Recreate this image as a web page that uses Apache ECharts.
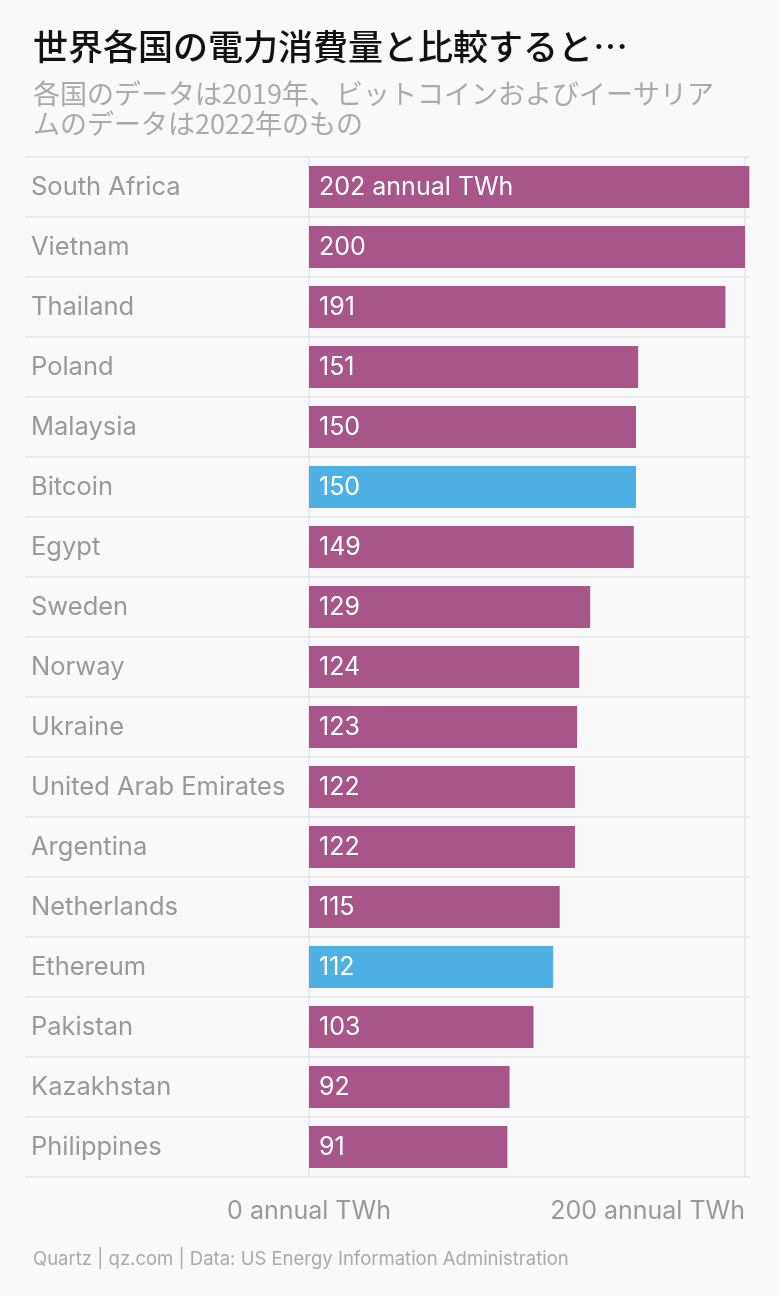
<!DOCTYPE html><html><head><meta charset="utf-8">
<script src="https://cdn.jsdelivr.net/npm/echarts@6/dist/echarts.min.js"></script>
<style>html,body{margin:0;background:#f9f9f9}#c{width:780px;height:1296px}</style></head><body><div id="c"></div>
<script>
const categories=["South Africa","Vietnam","Thailand","Poland","Malaysia","Bitcoin","Egypt","Sweden","Norway","Ukraine","United Arab Emirates","Argentina","Netherlands","Ethereum","Pakistan","Kazakhstan","Philippines"];
const values=[202,200,191,151,150,150,149,129,124,123,122,122,115,112,103,92,91];
const crypto=["Bitcoin","Ethereum"];
const xTicks=[0,200];
const F='Inter,"Noto Sans CJK JP",sans-serif';
const chart=echarts.init(document.getElementById('c'));
chart.setOption({
backgroundColor:'#f9f9f9',
title:[{text:'世界各国の電力消費量と比較すると…',left:28,top:24,textStyle:{fontFamily:'"Noto Sans CJK JP"',fontSize:35,fontWeight:500,color:'#111'}},
{text:'各国のデータは2019年、ビットコインおよびイーサリア\nムのデータは2022年のもの',left:28,top:74,textStyle:{fontFamily:'"Noto Sans CJK JP"',fontSize:27,fontWeight:'normal',color:'#aaa',lineHeight:30}},
{text:'Quartz | qz.com | Data: US Energy Information Administration',left:28,top:1245,textStyle:{fontFamily:F,fontSize:18.5,fontWeight:'normal',color:'#aaa'}}],
grid:[{left:25,right:30,top:157,height:1020},{left:309,width:436,top:157,height:1020}],
xAxis:[{gridIndex:0,show:false,min:0,max:1},
{gridIndex:1,min:0,max:200,interval:200,axisLine:{show:false},axisTick:{show:false},
splitLine:{show:true,lineStyle:{color:'#e4e4e4',width:1.5}},
axisLabel:{fontFamily:F,fontSize:25,color:'#999',margin:22,alignMaxLabel:'right',formatter:v=>xTicks.includes(v)?v+' annual TWh':''}}],
yAxis:[{gridIndex:0,type:'category',data:categories,inverse:true,axisLine:{show:false},axisTick:{show:false},
splitLine:{show:true,lineStyle:{color:'#e4e4e4',width:1.5}},axisLabel:{inside:true,margin:6,fontFamily:F,fontSize:25.5,color:'#999'}},
{gridIndex:1,type:'category',data:categories,inverse:true,show:false}],
series:[{type:'bar',xAxisIndex:1,yAxisIndex:1,clip:false,barWidth:42,
data:values.map((v,i)=>({value:v,itemStyle:{color:crypto.includes(categories[i])?'#4fb1e3':'#a8568a'}})),
label:{show:true,position:'insideLeft',distance:10,fontFamily:F,fontSize:25,color:'#fff',formatter:p=>p.dataIndex===0?p.value+' annual TWh':p.value}}]
});
</script></body></html>
